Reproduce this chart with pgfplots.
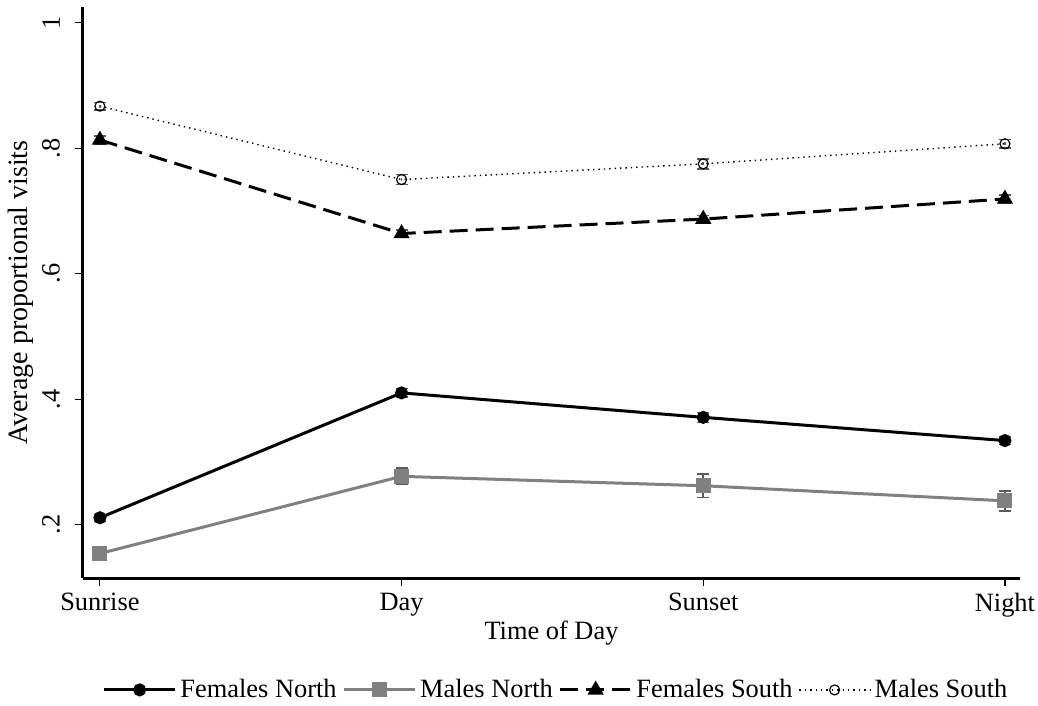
\documentclass[border=0pt]{standalone}
\usepackage{pgfplots}
\pgfplotsset{compat=1.18}
\usepackage{fontspec}
\setmainfont{Liberation Serif}
\definecolor{mgray}{RGB}{128,128,128}
\definecolor{egray}{RGB}{90,90,90}
\begin{document}
\begin{tikzpicture}
\begin{axis}[
  scale only axis,
  width=468.5pt, height=285.5pt,
  xmin=-0.056, xmax=3.05,
  ymin=0.115, ymax=1.025,
  axis x line*=bottom, axis y line*=left,
  axis line style={line width=1.5pt},
  xtick={0,1,2,3},
  xticklabels={Sunrise,Day,Sunset,Night},
  ytick={0.2,0.4,0.6,0.8,1},
  yticklabels={.2,.4,.6,.8,1},
  tick style={line width=0.6pt, black},
  tick align=outside,
  major tick length=4pt,
  font=\fontsize{13.2}{15}\selectfont,
  tick label style={font=\fontsize{13.2}{15}\selectfont},
  yticklabel style={rotate=90, anchor=south},
  yticklabel shift=4pt,
  xlabel={Time of Day},
  ylabel={Average proportional visits},
  label style={font=\fontsize{13.2}{15}\selectfont},
  ylabel style={font=\fontsize{14}{16}\selectfont, at={(axis description cs:-0.066,0.5)}, anchor=center},
  xlabel style={at={(axis description cs:0.5,-0.096)}, anchor=center},
  legend style={at={(0.506,-0.196)}, anchor=center, draw=none, fill=none,
    font=\fontsize{13.2}{15}\selectfont, legend columns=4,
    /tikz/every even column/.append style={column sep=1pt},
    /tikz/every odd column/.append style={column sep=0pt}},
  legend image code/.code={
    \draw[#1, mark repeat=2, mark phase=2] plot coordinates {(0cm,0cm) (0.62cm,0cm) (1.24cm,0cm)};
  },
  clip=false,
  error bars/y dir=both, error bars/y explicit,
  error bars/error bar style={egray, line width=0.8pt},
  error bars/error mark options={rotate=90, egray, mark size=3pt, line width=0.8pt},
]
\coordinate (bl) at (rel axis cs:0,0);
\coordinate (tr) at (rel axis cs:1,1);
% Females North
\addplot[black, line width=1.5pt, mark=*, mark size=2.5pt, mark options={solid, fill=black}]
  coordinates {(0,0.211) +- (0,0.005) (1,0.410) +- (0,0.007) (2,0.371) +- (0,0.008) (3,0.334) +- (0,0.006)};
\addlegendentry{Females North}
% Males North
\addplot[mgray, line width=1.5pt, mark=square*, mark size=3pt, mark options={solid, fill=mgray}]
  coordinates {(0,0.154) +- (0,0.007) (1,0.277) +- (0,0.013) (2,0.262) +- (0,0.019) (3,0.238) +- (0,0.016)};
\addlegendentry{Males North}
% Females South
\addplot[black, line width=1.5pt, dash pattern=on 9pt off 4pt, mark=triangle*, mark size=3.2pt, mark options={solid, fill=black}]
  coordinates {(0,0.813) +- (0,0.006) (1,0.664) +- (0,0.006) (2,0.687) +- (0,0.006) (3,0.719) +- (0,0.006)};
\addlegendentry{Females South}
% Males South
\addplot[black, line width=0.7pt, dotted, mark=o, mark size=2.5pt, mark options={solid, draw=black, fill=white, line width=0.6pt}]
  coordinates {(0,0.867) +- (0,0.006) (1,0.750) +- (0,0.008) (2,0.775) +- (0,0.008) (3,0.807) +- (0,0.007)};
\addlegendentry{Males South}
\end{axis}
\pgfresetboundingbox
\path ([shift={(-41.5pt,-64pt)}]bl) rectangle ([shift={(9pt,3.5pt)}]tr);
\end{tikzpicture}
\end{document}
